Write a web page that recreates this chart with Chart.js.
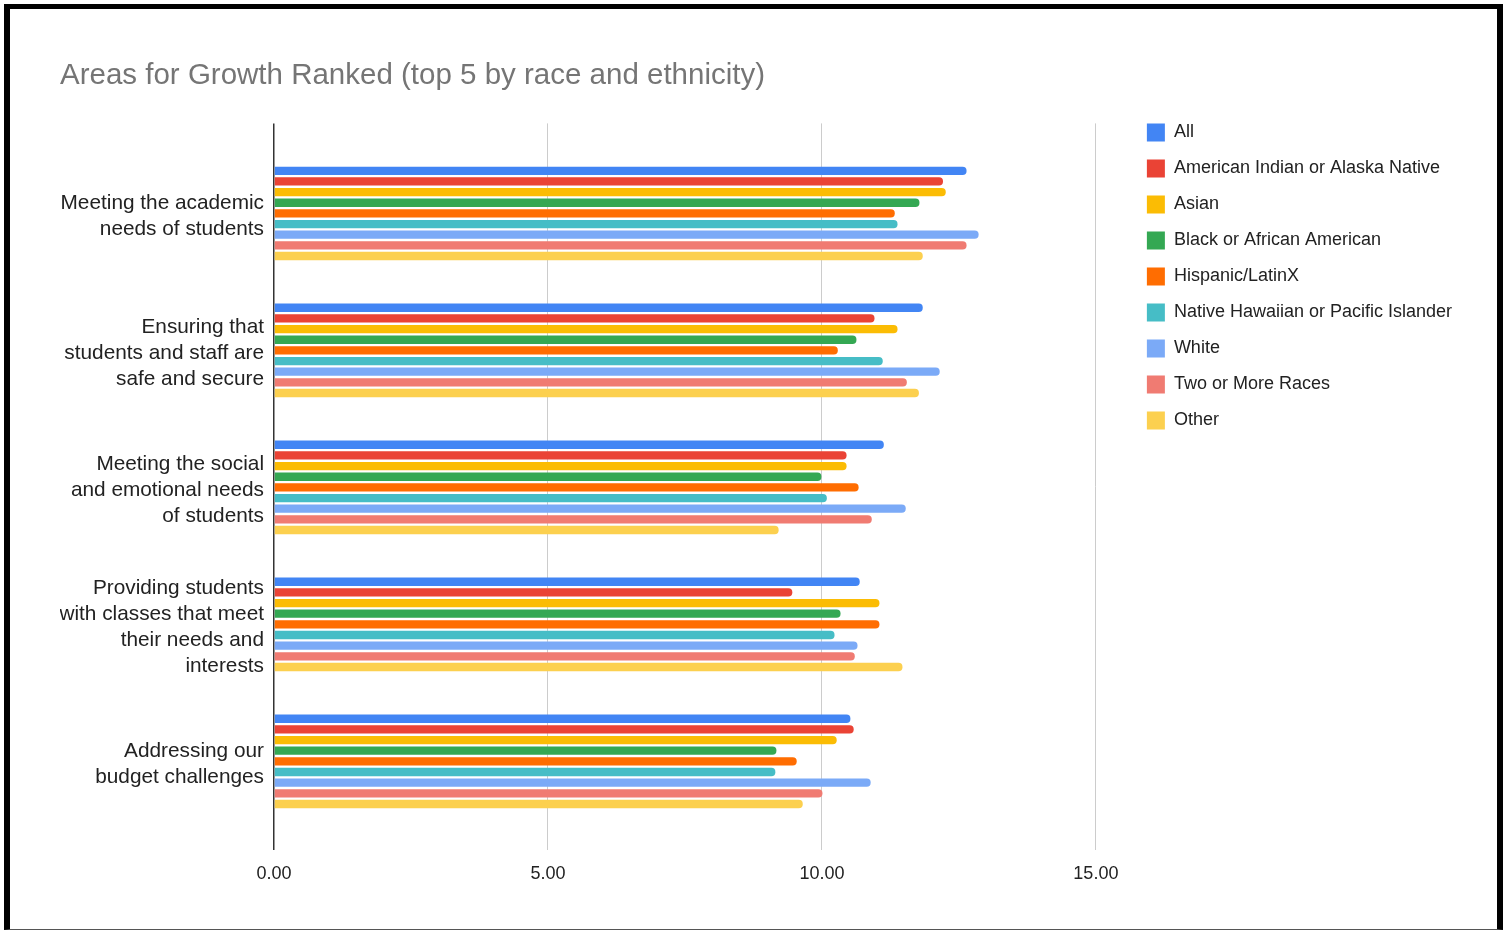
<!DOCTYPE html>
<html>
<head>
<meta charset="utf-8">
<title>Areas for Growth Ranked</title>
<script src="https://cdn.jsdelivr.net/npm/chart.js@4.4.1/dist/chart.umd.min.js"></script>
<style>
  html, body { margin: 0; padding: 0; background: #fff; }
  #wrap { position: relative; width: 1511px; height: 930px; overflow: hidden; }
  #chart { position: absolute; left: 0; top: 0; }
  #frame {
    position: absolute; left: 4px; top: 4px; width: 1499px; height: 926px;
    box-sizing: border-box; pointer-events: none;
    border-left: 6px solid #000; border-right: 6px solid #000;
    border-top: 5px solid #000; border-bottom: 1px solid #555;
  }
</style>
</head>
<body>
<div id="wrap">
  <canvas id="chart" width="1511" height="930"></canvas>
  <div id="frame"></div>
</div>
<script>
const categories = [
  ['Meeting the academic', 'needs of students'],
  ['Ensuring that', 'students and staff are', 'safe and secure'],
  ['Meeting the social', 'and emotional needs', 'of students'],
  ['Providing students', 'with classes that meet', 'their needs and', 'interests'],
  ['Addressing our', 'budget challenges'],
];

const xTicks = [0, 5, 10, 15];

const allStudents   = [12.64, 11.84, 11.13, 10.69, 10.52];
const amIndian      = [12.21, 10.96, 10.45, 9.46, 10.58];
const asian         = [12.26, 11.38, 10.45, 11.05, 10.27];
const black         = [11.78, 10.63, 9.99, 10.34, 9.17];
const hispanic      = [11.33, 10.29, 10.67, 11.05, 9.54];
const pacific       = [11.38, 11.11, 10.09, 10.23, 9.15];
const white         = [12.86, 12.15, 11.53, 10.65, 10.89];
const twoOrMore     = [12.64, 11.55, 10.91, 10.60, 10.01];
const other         = [11.84, 11.77, 9.21, 11.47, 9.65];

const series = [
  { label: 'All', values: allStudents, color: '#4285F4' },
  { label: 'American Indian or Alaska Native', values: amIndian, color: '#EA4335' },
  { label: 'Asian', values: asian, color: '#FBBC04' },
  { label: 'Black or African American', values: black, color: '#34A853' },
  { label: 'Hispanic/LatinX', values: hispanic, color: '#FF6D01' },
  { label: 'Native Hawaiian or Pacific Islander', values: pacific, color: '#46BDC6' },
  { label: 'White', values: white, color: '#7BAAF7' },
  { label: 'Two or More Races', values: twoOrMore, color: '#F07B72' },
  { label: 'Other', values: other, color: '#FCD04F' },
];

const FONT = "'Liberation Sans', Arial, sans-serif";

// nudge the legend so its first row lines up with the top of the plot
const legendShift = {
  id: 'legendShift',
  afterLayout(chart) {
    const lg = chart.legend;
    if (!lg) return;
    const dx = (chart.chartArea.right + 33) - lg.left;
    const dy = (chart.chartArea.top - 18) - lg.top;
    lg.left += dx; lg.right += dx;
    lg.top += dy; lg.bottom += dy;
  }
};

const data = {
  datasets: series.map(s => ({
    label: s.label,
    data: s.values.map((v, i) => ({ x: v, y: i })),
    backgroundColor: s.color,
    borderColor: s.color,
    borderWidth: 0,
    borderRadius: 4,
    categoryPercentage: 0.7,
    barPercentage: 0.78,
  }))
};

const config = {
  type: 'bar',
  data: data,
  options: {
    indexAxis: 'y',
    responsive: false,
    animation: false,
    devicePixelRatio: 1,
    layout: { padding: { left: 60, top: 58, right: 82, bottom: 32 } },
    plugins: {
      title: {
        display: true,
        text: 'Areas for Growth Ranked (top 5 by race and ethnicity)',
        align: 'start',
        color: '#757575',
        font: { family: FONT, size: 29.5, weight: 'normal' },
        padding: { top: 0, bottom: 30 },
      },
      legend: {
        position: 'right',
        align: 'start',
        labels: {
          boxWidth: 18,
          boxHeight: 18,
          padding: 18,
          color: '#222',
          font: { family: FONT, size: 18 },
        }
      },
      tooltip: { enabled: false },
    },
    scales: {
      x: {
        type: 'linear',
        min: 0,
        max: 15,
        afterBuildTicks(scale) { scale.ticks = xTicks.map(v => ({ value: v })); },
        border: { display: false },
        grid: {
          drawTicks: false,
          color: ctx => ctx.tick && ctx.tick.value === 0 ? '#333' : '#cccccc',
          lineWidth: ctx => ctx.tick && ctx.tick.value === 0 ? 1.5 : 1,
        },
        ticks: {
          padding: 13,
          color: '#222',
          font: { family: FONT, size: 18 },
          callback: v => v.toFixed(2),
        }
      },
      y: {
        type: 'linear',
        reverse: true,
        offset: false,
        min: -0.657,
        max: 4.65,
        afterBuildTicks(scale) { scale.ticks = categories.map((_, i) => ({ value: i })); },
        afterFit(scale) { scale.width = 214; },
        border: { display: false },
        grid: { display: false, drawTicks: false, offset: false },
        ticks: {
          padding: 10,
          labelOffset: 2.5,
          color: '#222',
          font: { family: FONT, size: 20.8, lineHeight: 26 / 20.8 },
          callback: v => categories[v],
        }
      }
    }
  },
  plugins: [legendShift],
};

const myChart = new Chart(document.getElementById('chart'), config);
</script>
</body>
</html>
